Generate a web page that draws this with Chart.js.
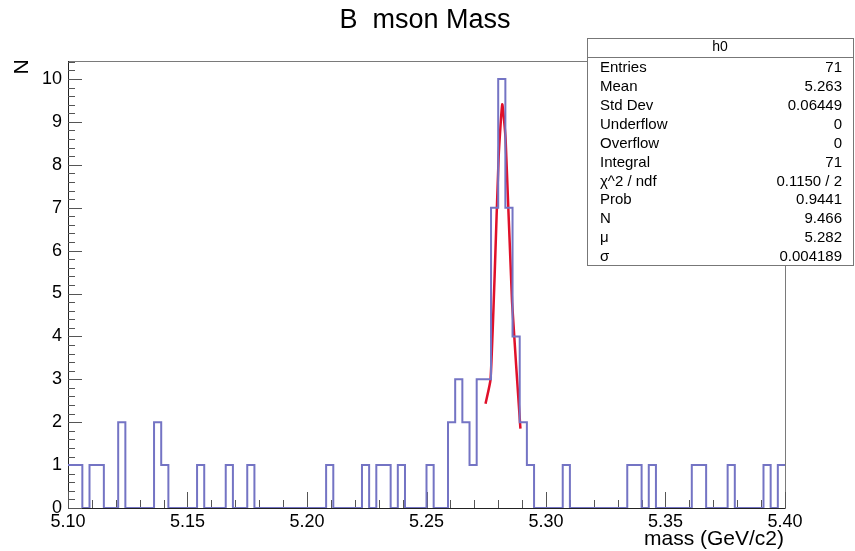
<!DOCTYPE html>
<html>
<head>
<meta charset="utf-8">
<script src="https://cdn.jsdelivr.net/npm/chart.js@4/dist/chart.umd.min.js"></script>
<style>
  html, body { margin: 0; padding: 0; background: #fff; }
  canvas { display: block; }
</style>
</head>
<body>
<canvas id="hist" width="855" height="551"></canvas>
<script>
// histogram h0: 100 bins of 0.003 GeV/c2 starting at 5.10
const binLow = 5.10;
const binWidth = 0.003;
const binCounts = [
  1, 1, 0, 1, 1, 0, 0, 2, 0, 0,
  0, 0, 2, 1, 0, 0, 0, 0, 1, 0,
  0, 0, 1, 0, 0, 1, 0, 0, 0, 0,
  0, 0, 0, 0, 0, 0, 1, 0, 0, 0,
  0, 1, 0, 1, 1, 0, 1, 0, 0, 0,
  1, 0, 0, 2, 3, 2, 1, 3, 3, 7,
  10, 7, 4, 2, 1, 0, 0, 0, 0, 1,
  0, 0, 0, 0, 0, 0, 0, 0, 1, 1,
  0, 1, 0, 0, 0, 0, 0, 1, 1, 0,
  0, 0, 1, 0, 0, 0, 0, 1, 0, 1
];

// gaussian fit curve
const fitX = [5.2747, 5.2768, 5.2785, 5.2802, 5.2817, 5.2831, 5.2858, 5.2893];
const fitY = [2.43, 3.0, 5.4, 8.2, 9.41, 8.6, 4.8, 1.85];

const xTickLabels = [5.10, 5.15, 5.20, 5.25, 5.30, 5.35, 5.40];
const yTickLabels = [0, 1, 2, 3, 4, 5, 6, 7, 8, 9, 10];

const statLabels = ['Entries', 'Mean', 'Std Dev', 'Underflow', 'Overflow', 'Integral',
  'χ^2 / ndf', 'Prob', 'N', 'μ', 'σ'];
const statValues = ['71', '5.263', '0.06449', '0', '0', '71',
  '0.1150 / 2', '0.9441', '9.466', '5.282', '0.004189'];

const FONT = '"Liberation Sans", Arial, sans-serif';

// step points at the low edge of every bin, plus the last upper edge
const histPoints = binCounts.map((c, i) => ({ x: binLow + i * binWidth, y: c }));
histPoints.push({ x: binLow + binCounts.length * binWidth, y: binCounts[binCounts.length - 1] });

const fitPoints = fitX.map((x, i) => ({ x: x, y: fitY[i] }));

// ROOT-like frame, inward ticks, titles and the stat box
const rootStyle = {
  id: 'rootStyle',
  beforeDatasetsDraw(chart) {
    const ctx = chart.ctx;
    const a = chart.chartArea;
    const xs = chart.scales.x, ys = chart.scales.y;
    ctx.save();
    ctx.strokeStyle = '#7a7a7a';
    ctx.lineWidth = 1;
    ctx.strokeRect(a.left + 0.5, a.top + 0.5, a.right - a.left, a.bottom - a.top);

    ctx.strokeStyle = '#222';
    ctx.beginPath();
    ctx.moveTo(a.left + 0.5, a.top);
    ctx.lineTo(a.left + 0.5, a.bottom + 0.5);
    ctx.lineTo(a.right, a.bottom + 0.5);
    ctx.stroke();

    ctx.strokeStyle = '#555';
    ctx.beginPath();
    for (let k = 0; k <= 30; k++) {
      const v = 5.10 + k * 0.01;
      const px = Math.round(xs.getPixelForValue(v)) + 0.5;
      const len = (k % 5 === 0) ? 16 : 8;
      ctx.moveTo(px, a.bottom);
      ctx.lineTo(px, a.bottom - len);
    }
    for (let k = 0; k <= 52; k++) {
      const v = k * 0.2;
      const py = Math.round(ys.getPixelForValue(v)) + 0.5;
      if (py < a.top) continue;
      const len = (k % 5 === 0) ? 14 : 7;
      ctx.moveTo(a.left, py);
      ctx.lineTo(a.left + len, py);
    }
    ctx.stroke();
    ctx.restore();
  },
  afterDatasetsDraw(chart) {
    const ctx = chart.ctx;
    ctx.save();
    ctx.fillStyle = '#000';

    ctx.font = '27px ' + FONT;
    ctx.textAlign = 'center';
    ctx.textBaseline = 'middle';
    ctx.fillText('B  mson Mass', 425, 21);

    ctx.font = '21px ' + FONT;
    ctx.textAlign = 'right';
    ctx.fillText('mass (GeV/c2)', 784, 539);

    ctx.save();
    ctx.translate(22, 67);
    ctx.rotate(-Math.PI / 2);
    ctx.textAlign = 'center';
    ctx.fillText('N', 0, 0);
    ctx.restore();

    // stat box
    const bx = 587.5, by = 38.5, bw = 266, bh = 227;
    ctx.fillStyle = '#fff';
    ctx.fillRect(bx, by, bw, bh);
    ctx.strokeStyle = '#777';
    ctx.lineWidth = 1;
    ctx.strokeRect(bx, by, bw, bh);
    ctx.beginPath();
    ctx.moveTo(bx, 57.5);
    ctx.lineTo(bx + bw, 57.5);
    ctx.stroke();

    ctx.fillStyle = '#000';
    ctx.font = '14px ' + FONT;
    ctx.textAlign = 'center';
    ctx.fillText('h0', 720, 47);
    ctx.font = '15px ' + FONT;
    statLabels.forEach((lab, i) => {
      const y = 68 + i * 18.9;
      ctx.textAlign = 'left';
      ctx.fillText(lab, 600, y);
      ctx.textAlign = 'right';
      ctx.fillText(statValues[i], 842, y);
    });
    ctx.restore();
  }
};

new Chart(document.getElementById('hist'), {
  type: 'line',
  data: {
    datasets: [
      {
        data: histPoints,
        stepped: true,
        borderColor: '#7474c4',
        borderWidth: 2,
        pointRadius: 0,
        fill: false
      },
      {
        data: fitPoints,
        borderColor: '#e0102a',
        borderWidth: 2.5,
        pointRadius: 0,
        tension: 0.15,
        fill: false
      }
    ]
  },
  options: {
    responsive: false,
    animation: false,
    devicePixelRatio: 1,
    layout: { padding: { left: 0, right: 70, top: 61, bottom: 0 } },
    plugins: { legend: { display: false }, tooltip: { enabled: false } },
    scales: {
      x: {
        type: 'linear',
        min: 5.10,
        max: 5.40,
        grid: { display: false, drawTicks: false },
        border: { display: false },
        afterBuildTicks: (s) => { s.ticks = xTickLabels.map(v => ({ value: v })); },
        afterFit: (s) => { s.height = 43; },
        ticks: {
          autoSkip: false,
          maxRotation: 0,
          padding: 3,
          color: '#000',
          font: { family: FONT, size: 18 },
          callback: (v) => Number(v).toFixed(2)
        }
      },
      y: {
        min: 0,
        max: 10.42,
        grid: { display: false, drawTicks: false },
        border: { display: false },
        afterBuildTicks: (s) => { s.ticks = yTickLabels.map(v => ({ value: v })); },
        afterFit: (s) => { s.width = 68; },
        ticks: {
          autoSkip: false,
          padding: 6,
          color: '#000',
          font: { family: FONT, size: 18 },
          callback: (v) => String(v)
        }
      }
    }
  },
  plugins: [rootStyle]
});
</script>
</body>
</html>
